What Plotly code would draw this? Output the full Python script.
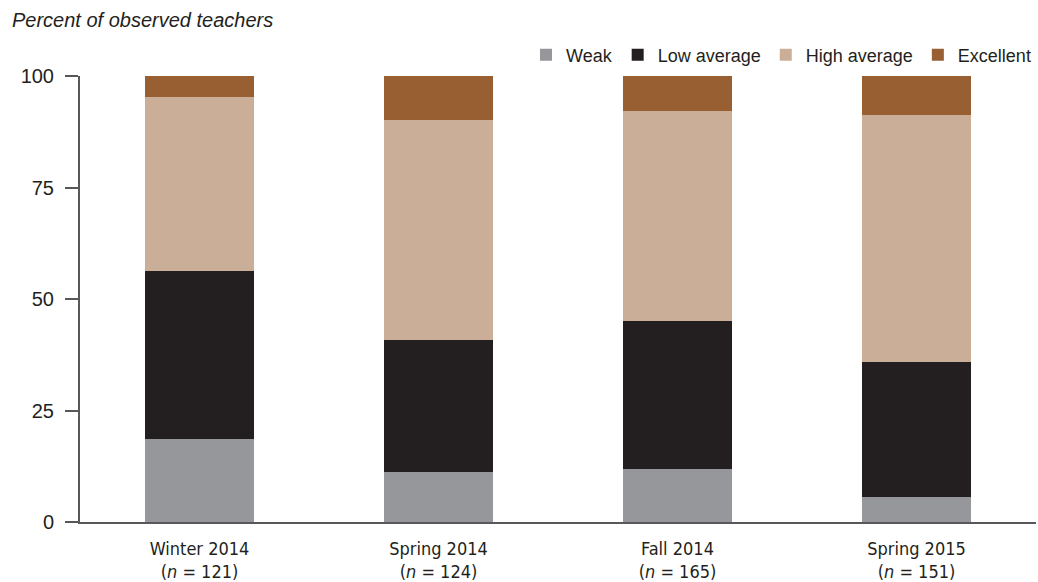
import plotly.graph_objects as go

categories = ["Winter 2014", "Spring 2014", "Fall 2014", "Spring 2015"]
n_values = [121, 124, 165, 151]
weak = [18.7, 11.3, 11.9, 5.5]
low_average = [37.6, 29.6, 33.2, 30.3]
high_average = [39.1, 49.2, 47.1, 55.4]
excellent = [4.6, 9.9, 7.8, 8.8]
y_ticks = [0, 25, 50, 75, 100]

series = [
    ("Weak", weak, "#96979a"),
    ("Low average", low_average, "#231f20"),
    ("High average", high_average, "#cbae98"),
    ("Excellent", excellent, "#985f33"),
]

tick_text = [f"{c}<br>(<i>n</i> = {n})" for c, n in zip(categories, n_values)]

fig = go.Figure()
for name, vals, color in series:
    fig.add_trace(go.Bar(
        x=categories, y=vals, name=name,
        marker=dict(color=color, line=dict(width=0)),
        width=0.452,
    ))

fig.update_layout(
    barmode="stack",
    width=1038, height=582,
    margin=dict(l=80, r=2, t=76, b=60, autoexpand=False),
    paper_bgcolor="white", plot_bgcolor="white",
    font=dict(family="Liberation Sans", color="#231f20", size=17),
    showlegend=True,
    legend=dict(
        orientation="h", x=1.0, xanchor="right", y=1.047, yanchor="middle",
        font=dict(size=18, color="#231f20"), traceorder="normal",
        itemwidth=30, tracegroupgap=0,
    ),
    xaxis=dict(
        tickmode="array", tickvals=categories, ticktext=tick_text,
        range=[-0.5, 3.5], showline=True, linecolor="#58585a", linewidth=2,
        ticks="", showgrid=False, zeroline=False, ticklabelstandoff=9,
        automargin=False,
        tickfont=dict(family="DejaVu Sans Condensed, Liberation Sans", size=18, color="#231f20"),
    ),
    yaxis=dict(
        range=[0, 100], tickvals=y_ticks, showline=True, linecolor="#58585a",
        linewidth=2, ticks="outside", ticklen=13, tickwidth=2, tickcolor="#58585a",
        showgrid=False, zeroline=False, ticklabelstandoff=7, automargin=False,
        tickfont=dict(size=20, color="#231f20"),
    ),
    annotations=[dict(
        text="<i>Percent of observed teachers</i>", xref="paper", yref="paper",
        x=-0.0732, y=1.1256, xanchor="left", yanchor="middle", showarrow=False,
        font=dict(size=20, color="#231f20"),
    )],
)

fig.write_html(
    "out.html",
    config={"displayModeBar": False},
    post_script="document.body.style.margin='0';document.body.style.padding='0';",
)
